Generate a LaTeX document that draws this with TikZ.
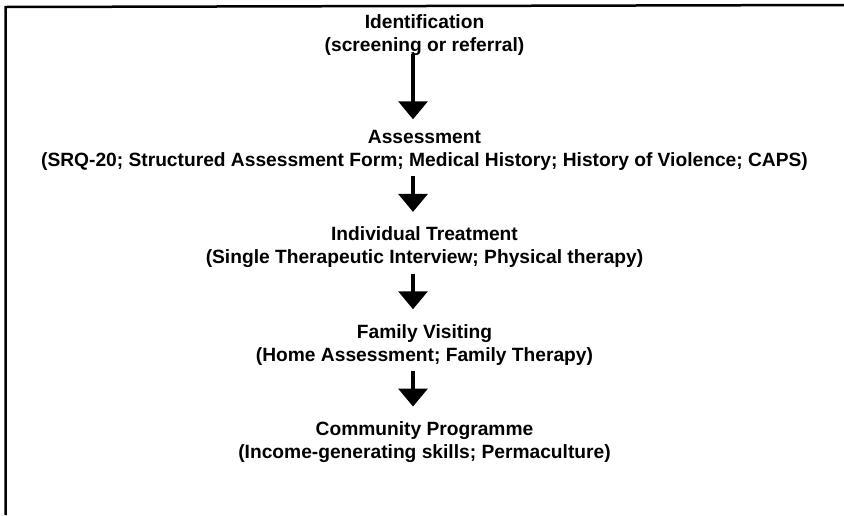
\documentclass[tikz,border=0pt]{standalone}
\usepackage{fontspec}
\setmainfont{Liberation Sans}
\usetikzlibrary{positioning,arrows.meta}

\tikzset{
  stage/.style={align=center,inner sep=0pt,font=\fontsize{19.2pt}{23pt}\selectfont\bfseries},
  flow/.style={line width=3.5pt,-{Triangle[width=29pt,length=18pt]},shorten <=5.5pt,shorten >=15pt}
}

\begin{document}
\begin{tikzpicture}[x=1pt,y=-1pt,node distance=56pt]
\useasboundingbox (0,0) rectangle (844,515);

% open frame: only the top and the left side are drawn
\draw[line width=2.5pt] (5.5,515) -- (5.5,7) -- (844,5);

% the five steps, one under the other
\node[stage,anchor=base] (ident) at (424.5,51) {Identification\\(screening or referral)};
\node[stage] (assess) [below=75pt of ident] {Assessment\\(SRQ-20; Structured Assessment Form; Medical History; History of Violence; CAPS)};
\node[stage] (treat) [below=of assess] {Individual Treatment\\(Single Therapeutic Interview; Physical therapy)};
\node[stage] (visit) [below=of treat] {Family Visiting\\(Home Assessment; Family Therapy)};
\node[stage] (commun) [below=of visit] {Community Programme\\(Income-generating skills; Permaculture)};

% arrows sit a little left of the text centre
\draw[flow,shorten <=-1pt,shorten >=11pt] ([xshift=-11.5pt]ident.south) -- ([xshift=-11.5pt]assess.north);
\draw[flow] ([xshift=-11.5pt]assess.south) -- ([xshift=-11.5pt]treat.north);
\draw[flow] ([xshift=-11.5pt]treat.south) -- ([xshift=-11.5pt]visit.north);
\draw[flow] ([xshift=-11.5pt]visit.south) -- ([xshift=-11.5pt]commun.north);

\end{tikzpicture}
\end{document}
